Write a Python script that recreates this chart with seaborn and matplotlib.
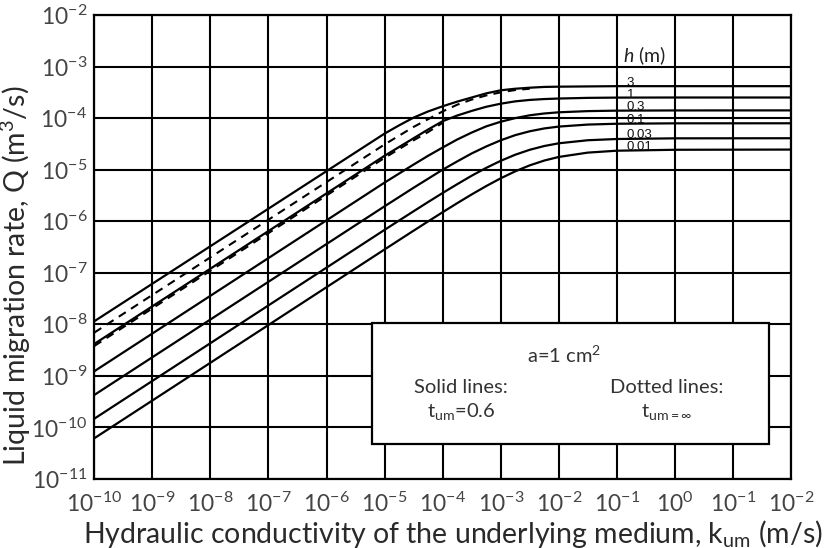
import numpy as np
import pandas as pd
import matplotlib
matplotlib.use('Agg')
import matplotlib.pyplot as plt
import seaborn as sns
from matplotlib.patches import Rectangle
from matplotlib.ticker import NullLocator

# log10 of hydraulic conductivity k_um (m/s) where the curves were read
log_k = [-10, -5, -4.75, -4.5, -4.25, -4, -3.75, -3.5, -3.25, -3,
         -2.75, -2.5, -2.25, -2, -1.5, -1, 0, 2]

# log10 of Q (m3/s), solid lines (t_um = 0.6), one list per h
h_labels = ['3', '1', '0.3', '0.1', '0.03', '0.01']
q_h3 = [-7.94, -4.30, -4.14, -3.99, -3.87, -3.77, -3.68, -3.60, -3.52, -3.46,
        -3.43, -3.41, -3.395, -3.39, -3.385, -3.38, -3.38, -3.38]
q_h1 = [-8.38, -4.73, -4.56, -4.39, -4.22, -4.06, -3.95, -3.86, -3.78, -3.72,
        -3.675, -3.647, -3.63, -3.62, -3.607, -3.602, -3.60, -3.60]
q_h03 = [-8.91, -5.25, -5.075, -4.90, -4.73, -4.57, -4.415, -4.28, -4.16, -4.07,
         -4.00, -3.945, -3.91, -3.887, -3.864, -3.855, -3.851, -3.85]
q_h01 = [-9.37, -5.71, -5.53, -5.35, -5.175, -5.00, -4.84, -4.685, -4.55, -4.43,
         -4.33, -4.255, -4.20, -4.164, -4.125, -4.109, -4.101, -4.10]
q_h003 = [-9.83, -6.167, -5.986, -5.806, -5.627, -5.452, -5.282, -5.117, -4.965, -4.828,
          -4.71, -4.614, -4.541, -4.488, -4.429, -4.405, -4.392, -4.39]
q_h001 = [-10.21, -6.547, -6.365, -6.183, -6.003, -5.825, -5.65, -5.48, -5.318, -5.167,
          -5.032, -4.916, -4.823, -4.753, -4.669, -4.632, -4.614, -4.61]

# dotted lines (t_um = infinite), they run into the solid h=3 and h=1 curves
nan = np.nan
q_dot_h3 = [-8.16, -4.51, -4.34, -4.17, -4.02, -3.87, -3.74, -3.64, -3.56, -3.50,
            -3.455, -3.43, nan, nan, nan, nan, nan, nan]
q_dot_h1 = [-8.42, -4.77, -4.60, -4.43, -4.27, -4.09, nan, nan, nan, nan,
            nan, nan, nan, nan, nan, nan, nan, nan]

x_tick_labels = [r'$10^{-10}$', r'$10^{-9}$', r'$10^{-8}$', r'$10^{-7}$', r'$10^{-6}$',
                 r'$10^{-5}$', r'$10^{-4}$', r'$10^{-3}$', r'$10^{-2}$', r'$10^{-1}$',
                 r'$10^{0}$', r'$10^{-1}$', r'$10^{-2}$']
y_tick_labels = [r'$10^{-11}$', r'$10^{-10}$', r'$10^{-9}$', r'$10^{-8}$', r'$10^{-7}$',
                 r'$10^{-6}$', r'$10^{-5}$', r'$10^{-4}$', r'$10^{-3}$', r'$10^{-2}$']

solid = [q_h3, q_h1, q_h03, q_h01, q_h003, q_h001]
dotted = [q_dot_h3, q_dot_h1]

rows = []
for lab, q in zip(h_labels, solid):
    for lk, lq in zip(log_k, q):
        rows.append(('h=' + lab, 'solid', 10.0 ** lk, 10.0 ** lq))
for lab, q in zip(['3', '1'], dotted):
    for lk, lq in zip(log_k, q):
        if not np.isnan(lq):
            rows.append(('dot h=' + lab, 'dotted', 10.0 ** lk, 10.0 ** lq))
df = pd.DataFrame(rows, columns=['curve', 'kind', 'k', 'Q'])

sns.set_style('white')
plt.rcParams['font.family'] = ['Lato', 'DejaVu Sans']
plt.rcParams['mathtext.fontset'] = 'custom'
plt.rcParams['mathtext.rm'] = 'Lato'
plt.rcParams['mathtext.it'] = 'Lato:italic'
plt.rcParams['mathtext.bf'] = 'Lato:bold'

fig = plt.figure(figsize=(8.39, 5.48), dpi=100)
ax = fig.add_axes([0.1124, 0.1259, 0.8304, 0.8467])

sns.lineplot(data=df[df.kind == 'solid'], x='k', y='Q', units='curve', estimator=None,
             sort=False, color='black', lw=1.6, ax=ax)
sns.lineplot(data=df[df.kind == 'dotted'], x='k', y='Q', units='curve', estimator=None,
             sort=False, color='black', lw=1.5, linestyle=(0, (4, 3)), ax=ax)

ax.set(xscale='log', yscale='log')
ax.set_xlim(1e-10, 1e2)
ax.set_ylim(1e-11, 1e-2)
ax.set_xticks(10.0 ** np.arange(-10, 3))
ax.set_xticklabels(x_tick_labels)
ax.set_yticks(10.0 ** np.arange(-11, -1))
ax.set_yticklabels(y_tick_labels)
ax.xaxis.set_minor_locator(NullLocator())
ax.yaxis.set_minor_locator(NullLocator())
ax.grid(True, which='major', color='black', lw=1.5)
ax.set_axisbelow(True)
for s in ax.spines.values():
    s.set_color('black')
    s.set_linewidth(1.6)
ax.tick_params(axis='both', length=0, labelsize=16.5, labelcolor='#444444')
ax.tick_params(axis='x', pad=9)
ax.tick_params(axis='y', pad=5)

ax.set_xlabel(r'Hydraulic conductivity of the underlying medium, k$_{\rm um}$ (m/s)',
              fontsize=20.5, color='#2a2a2a')
ax.set_ylabel(r'Liquid migration rate, Q (m$^{3}$/s)', fontsize=20.5, color='#2a2a2a')
ax.xaxis.set_label_coords(0.515, -0.083)
ax.yaxis.set_label_coords(-0.088, 0.4375)

# h labels at the right end of each curve
for lab, q in zip(h_labels, solid):
    ax.text(10 ** -0.83, 10 ** q[-1], lab, fontsize=9.5, color='#111111',
            family='Liberation Sans', ha='left', va='baseline')
ax.text(10 ** -0.9, 10 ** -2.92, r'$h$ (m)', fontsize=14, color='#222222',
        ha='left', va='baseline')

# note box
ax.add_patch(Rectangle((0.3986, 0.0754), 0.5698, 0.2606, transform=ax.transAxes,
                       facecolor='white', edgecolor='black', lw=1.6, zorder=4))
tkw = dict(transform=ax.transAxes, fontsize=14.5, color='#333333', zorder=5,
           ha='center', va='baseline')
ax.text(0.675, 0.2506, r'a=1 cm$^{2}$', **tkw)
ax.text(0.526, 0.1847, 'Solid lines:', **tkw)
ax.text(0.527, 0.133, r't$_{\rm um}$=0.6', **tkw)
ax.text(0.8216, 0.1847, 'Dotted lines:', **tkw)
ax.text(0.8216, 0.133, r't$_{\rm um=\infty}$', **tkw)

fig.savefig('out.png', dpi=100)
